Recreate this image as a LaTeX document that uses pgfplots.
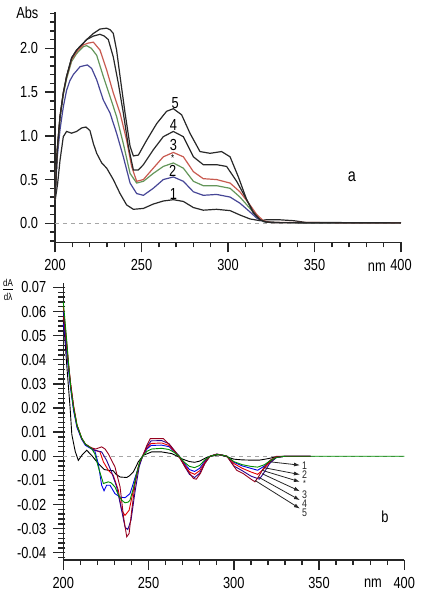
\documentclass[border=0pt]{standalone}
\usepackage{pgfplots}
\pgfplotsset{compat=1.18}
\usetikzlibrary{arrows.meta}
\usepackage{fontspec}
\setmainfont{Liberation Sans}[FakeStretch=0.8]
\definecolor{tk}{RGB}{40,40,40}
\definecolor{tblue}{RGB}{70,70,150}
\definecolor{tgreen}{RGB}{100,150,90}
\definecolor{tred}{RGB}{200,90,80}
\definecolor{bblue}{RGB}{0,0,230}
\definecolor{bgreen}{RGB}{0,140,0}
\definecolor{bred}{RGB}{230,0,0}
\definecolor{bnavy}{RGB}{40,0,140}
\definecolor{bmaroon}{RGB}{150,0,30}
\pgfplotsset{
  base/.style={
    scale only axis, anchor=south west,
    axis x line=bottom, axis y line=left,
    axis line style={-, black!85, line width=0.6pt},
    tick style={black!85, line width=0.6pt},
    major tick length=5pt, minor tick length=2.5pt,
    xtick align=outside, ytick align=outside,
    xmin=200, xmax=400,
    xtick={200,250,...,400}, minor x tick num=4,
    xticklabel style={/pgf/number format/1000 sep={}},
    tick label style={font=\fontsize{8}{9}\selectfont},
    clip=false,
  },
}
\tikzset{tkl/.style={draw=black!85, line width=0.7pt}}
\begin{document}
\begin{tikzpicture}
\path (0,0) rectangle (219pt,300pt);
% ---- tick marks, drawn first, on the same geometry as the axes below ----
\begin{scope}
% panel a: x axis at y=178.85pt, 200..400 nm over 27.5pt..200.5pt
\foreach \i in {0,...,20} {\draw[tkl] (27.5pt+\i*8.65pt,178.85pt) -- ++(0pt,-2.5pt);}
\foreach \i in {0,5,10,15,20} {\draw[tkl] (27.5pt+\i*8.65pt,178.85pt) -- ++(0pt,-5pt);}
% panel a: y axis at x=27.5pt, minor every 0.1 from -0.2, major every 0.5 from 0
\foreach \i in {0,...,26} {\draw[tkl] (27.5pt,179.594pt+\i*4.375pt) -- ++(-2.5pt,0pt);}
\foreach \i in {0,...,4} {\draw[tkl] (27.5pt,188.344pt+\i*21.875pt) -- ++(-5pt,0pt);}
% panel b: x axis at y=20pt, 200..400 nm over 31.65pt..202.15pt
\foreach \i in {0,...,20} {\draw[tkl] (31.65pt+\i*8.525pt,20pt) -- ++(0pt,-2.5pt);}
\foreach \i in {0,5,10,15,20} {\draw[tkl] (31.65pt+\i*8.525pt,20pt) -- ++(0pt,-5pt);}
% panel b: y axis at x=31.65pt, minor every 0.002 from -0.042, major every 0.01 from -0.04
\foreach \i in {0,...,56} {\draw[tkl] (32.65pt,21.206pt+\i*2.4124pt) -- ++(-3.5pt,0pt);}
\foreach \i in {0,...,11} {\draw[tkl] (31.65pt,23.619pt+\i*12.062pt) -- ++(-5pt,0pt);}
\end{scope}
% ---------------- panel a ----------------
\begin{axis}[base, at={(27.5pt,178.85pt)}, width=173pt, height=115.15pt,
  ymin=-0.217, ymax=2.415,
  ytick={0,0.5,1.0,1.5,2.0}, minor y tick num=4,
  yticklabel style={/pgf/number format/.cd, fixed, fixed zerofill, precision=1, assume math mode=true},
  xticklabel style={/pgf/number format/.cd, assume math mode=true},
]
\addplot[black!35, dashed, dash pattern=on 2pt off 2pt, line width=0.5pt] coordinates {(200,0) (400,0)};
% curve 1
\addplot[tk, line width=0.6pt] coordinates {(200,0.25) (201.5,0.45) (202.9,0.72) (204.8,0.99) (206.7,1.05) (209.6,1.03) (212.5,1.05) (215.4,1.09) (217.9,1.10) (220.2,1.06) (222.2,0.91) (224.1,0.80) (227,0.69) (229.9,0.63) (233.7,0.50) (237.6,0.34) (241.4,0.21) (245.3,0.16) (251.1,0.17) (256.8,0.22) (262.6,0.255) (268.4,0.27) (274.2,0.25) (280,0.18) (285.7,0.15) (293.4,0.16) (301.2,0.145) (306.9,0.095) (312.7,0.05) (318.5,0.03) (322,0.04) (330,0.04) (338,0.03) (345,0.01) (400,0.005)};
% curve 2
\addplot[tblue, line width=0.6pt] coordinates {(200,0.27) (201.3,0.75) (202.9,1.07) (204.8,1.33) (206.7,1.52) (208.6,1.63) (210.6,1.70) (214.5,1.79) (218.7,1.81) (221.2,1.77) (224.1,1.64) (227.9,1.41) (231.8,1.26) (235.6,1.03) (239.5,0.76) (243.4,0.46) (247.2,0.34) (251.1,0.32) (256.8,0.40) (262.6,0.50) (268.4,0.53) (274.2,0.48) (280,0.36) (285.7,0.32) (293.4,0.33) (301.2,0.30) (306.9,0.23) (312.7,0.13) (316.6,0.06) (320.4,0.02) (325,0.008) (400,0.005)};
% curve *
\addplot[tgreen, line width=0.6pt] coordinates {(200,0.27) (201.3,0.83) (202.9,1.20) (204.8,1.47) (206.7,1.65) (209.6,1.85) (212.5,1.94) (216.4,2.02) (218.3,2.03) (221,2.0) (224.1,1.92) (227.9,1.68) (231.8,1.45) (235.6,1.22) (239.5,0.91) (243.4,0.57) (247.2,0.46) (251.1,0.48) (256.8,0.57) (262.6,0.65) (268.4,0.69) (274.2,0.63) (280,0.48) (285.7,0.43) (293.4,0.43) (301.2,0.40) (306.9,0.30) (312.7,0.17) (316.6,0.08) (320.4,0.02) (325,0.008) (400,0.005)};
% curve 3
\addplot[tred, line width=0.6pt] coordinates {(200,0.27) (201.3,0.84) (202.9,1.22) (204.8,1.49) (206.7,1.67) (209.6,1.87) (212.5,1.96) (216.4,2.04) (219.3,2.06) (222.2,2.07) (226,1.98) (229.9,1.75) (233.7,1.49) (237.6,1.26) (241.4,0.95) (244.3,0.65) (247.2,0.48) (251.1,0.50) (256.8,0.63) (262.6,0.76) (268.4,0.81) (274.2,0.76) (280,0.59) (285.7,0.51) (293.4,0.50) (301.2,0.46) (306.9,0.36) (312.7,0.21) (316.6,0.10) (320.4,0.03) (325,0.01) (400,0.005)};
% curve 4
\addplot[tk, line width=0.6pt] coordinates {(200,0.27) (201.3,0.84) (202.9,1.22) (204.8,1.49) (206.7,1.68) (209.6,1.89) (212.5,1.98) (216.4,2.06) (218.3,2.10) (222.2,2.14) (226,2.16) (228.5,2.14) (230.8,2.10) (233.7,1.90) (236.6,1.60) (239.5,1.26) (242.4,0.88) (245.3,0.61) (248.2,0.61) (251.1,0.67) (256.8,0.84) (262.6,0.99) (268.4,1.05) (274.2,0.99) (280,0.76) (285.7,0.67) (293.4,0.67) (299.2,0.65) (305,0.48) (310.8,0.27) (314.6,0.13) (318.5,0.04) (322,0.015) (330,0.008) (400,0.005)};
% curve 5
\addplot[tk, line width=0.6pt] coordinates {(200,0.27) (201.3,0.84) (202.9,1.22) (204.8,1.49) (206.7,1.68) (209.6,1.89) (212.5,1.98) (216.4,2.06) (218.3,2.10) (222.2,2.17) (226,2.22) (229.9,2.23) (232,2.21) (233.7,2.17) (235.6,1.98) (237.6,1.68) (240.5,1.26) (243.4,0.88) (245.3,0.77) (248.2,0.78) (253,0.95) (258.8,1.14) (264.5,1.28) (268.4,1.31) (273.2,1.24) (278,1.03) (283.8,0.82) (289.6,0.80) (296.3,0.82) (301.2,0.76) (306,0.53) (310.8,0.27) (314.6,0.12) (318.5,0.04) (322,0.015) (330,0.008) (400,0.005)};
\begin{scope}[every node/.style={font=\fontsize{8}{9}\selectfont, inner sep=0pt}]
\node at (axis cs:269.4,1.37) {5};
\node at (axis cs:268.4,1.12) {4};
\node at (axis cs:268.4,0.89) {3};
\node at (axis cs:268,0.745) {\fontsize{5}{5}\selectfont *};
\node at (axis cs:268,0.60) {2};
\node at (axis cs:268.4,0.33) {1};
\node at (axis cs:371.6,0.53) {\fontsize{9}{9}\selectfont a};
\end{scope}
\node[font=\fontsize{8}{9}\selectfont, inner sep=0pt] at (axis description cs:-0.08,0.995) {Abs};
\node[font=\fontsize{8}{9}\selectfont, inner sep=0pt] at (axis description cs:0.93,-0.107) {nm};
\end{axis}
% ---------------- panel b ----------------
\begin{axis}[base, at={(31.65pt,20pt)}, width=170.5pt, height=138.35pt,
  ymin=-0.0430, ymax=0.0717,
  scaled y ticks=false,
  ytick={-0.04,-0.03,-0.02,-0.01,0,0.01,0.02,0.03,0.04,0.05,0.06,0.07}, minor y tick num=4,
  yticklabel style={/pgf/number format/.cd, fixed, fixed zerofill, precision=2, assume math mode=true},
  xticklabel style={/pgf/number format/.cd, assume math mode=true},
]
\addplot[black!35, dashed, dash pattern=on 2pt off 2pt, line width=0.5pt] coordinates {(200,0) (400,0)};
% 1 black
\addplot[black, line width=0.45pt] coordinates {(200,0.057) (201,0.048) (202,0.038) (203,0.029) (204,0.020) (205,0.009) (207,0.002) (208.8,-0.0017) (211,0.0005) (213.7,0.0025) (216.6,0.0004) (220.5,-0.003) (224,-0.0055) (226.4,-0.0058) (229.3,-0.006) (231,-0.0075) (233.3,-0.0086) (237.2,-0.0088) (239,-0.008) (241.1,-0.0065) (244,-0.0023) (246.9,0.0004) (251.8,0.0018) (257.7,0.0018) (263.6,0.0011) (267,0) (270,-0.0012) (274,-0.0022) (277,-0.0025) (280,-0.002) (284,-0.0005) (287,0) (291,0.0006) (295,0) (300,-0.0012) (305,-0.0015) (310,-0.0016) (315,-0.0016) (320,-0.001) (325,-0.0002) (330,0) (345,0)};
% 2 blue
\addplot[bblue, line width=0.45pt] coordinates {(200,0.055) (201,0.05) (202,0.043) (203,0.036) (204.3,0.028) (206,0.019) (208,0.012) (210.8,0.007) (213,0.0045) (216.6,0.003) (218.5,0.0022) (220.5,-0.003) (222.5,-0.012) (223.9,-0.0143) (225.4,-0.012) (227.4,-0.012) (230.3,-0.0155) (233.3,-0.0169) (236.2,-0.0172) (239.1,-0.0155) (240.5,-0.0125) (242.2,-0.0086) (245.1,-0.0023) (246.5,0) (249,0.003) (251.5,0.0045) (257.7,0.0046) (262,0.004) (265,0.002) (268,0) (271,-0.003) (274,-0.0055) (277,-0.0063) (280,-0.005) (283,-0.002) (286,0) (290,0.0008) (293,0.0005) (296,0) (300,-0.0025) (305,-0.004) (310,-0.005) (314,-0.0058) (318,-0.004) (321,-0.0022) (325,-0.0005) (330,0) (345,0)};
% 3 red
\addplot[bred, line width=0.45pt] coordinates {(200,0.062) (201,0.055) (202,0.047) (203,0.039) (204.3,0.030) (206,0.021) (208,0.013) (210.8,0.0075) (213,0.005) (216.6,0.0033) (218.5,0.0025) (221.5,0.0018) (223.5,-0.0023) (226.4,-0.0058) (229.3,-0.0079) (232.3,-0.0141) (234.2,-0.0224) (236.2,-0.0245) (238.6,-0.0224) (241.1,-0.0141) (244,-0.0044) (246.5,0) (249,0.0035) (251.5,0.0053) (257.7,0.0055) (262,0.0045) (265,0.0022) (268,0) (271,-0.0035) (274,-0.0065) (277,-0.0075) (280,-0.006) (283,-0.0025) (286,0) (290,0.0008) (293,0.0005) (296,0) (300,-0.003) (305,-0.005) (310,-0.0065) (314,-0.0075) (318,-0.005) (321,-0.0025) (325,-0.0005) (330,0) (345,0)};
% 4 navy
\addplot[bnavy, line width=0.45pt] coordinates {(200,0.06) (201,0.053) (202,0.046) (203,0.038) (204.3,0.029) (206,0.02) (208,0.0125) (210.8,0.0072) (213,0.005) (216.6,0.0032) (218.5,0.0025) (222.5,0.0018) (225.4,-0.0017) (228.3,-0.0065) (231.3,-0.0127) (234.2,-0.0224) (236.2,-0.0293) (237.8,-0.0304) (239.7,-0.0265) (242.2,-0.0141) (244.5,-0.0044) (246.5,0) (249,0.004) (251.5,0.0064) (257.7,0.0065) (262,0.0052) (265,0.0025) (268,0) (271,-0.004) (274,-0.0075) (277,-0.0088) (280,-0.007) (283,-0.003) (286,0) (290,0.0009) (293,0.0005) (296,0) (300,-0.004) (305,-0.006) (310,-0.0082) (315,-0.0095) (318,-0.0065) (321,-0.003) (325,-0.0005) (330,0) (345,0)};
% 5 maroon
\addplot[bmaroon, line width=0.45pt] coordinates {(200,0.058) (201,0.052) (202,0.045) (203,0.038) (204.3,0.03) (206,0.021) (208,0.013) (210.8,0.0075) (213,0.005) (216.6,0.0035) (219,0.003) (222.5,0.0039) (224.5,0.003) (226.4,0.001) (230.3,-0.0044) (233.3,-0.0127) (235.3,-0.025) (237.2,-0.0334) (238.6,-0.032) (240.2,-0.022) (242.2,-0.011) (244.5,-0.003) (246.5,0) (249,0.0045) (251,0.0073) (258.7,0.0073) (262.6,0.0046) (266.5,0.0011) (268.5,-0.001) (272,-0.005) (276.3,-0.0092) (278,-0.0095) (280.5,-0.007) (283,-0.003) (286,0) (290,0.0009) (293,0.0005) (296,0) (301.7,-0.0058) (305.6,-0.0072) (309.5,-0.0092) (312.4,-0.0106) (314.4,-0.0086) (317.3,-0.0051) (321.2,-0.0017) (325.1,0) (345,0)};
% * green
\addplot[bgreen, line width=0.45pt] coordinates {(200,0.064) (201,0.056) (202,0.048) (203,0.039) (204.3,0.029) (206,0.02) (208,0.013) (210.8,0.0075) (213,0.005) (216.6,0.0032) (218.5,0.001) (220.5,-0.0044) (222.5,-0.009) (223.5,-0.0113) (226.4,-0.0106) (228,-0.011) (230.3,-0.0127) (232.3,-0.016) (234.2,-0.0182) (236.2,-0.0193) (238,-0.019) (239.1,-0.0182) (241,-0.0135) (243,-0.0072) (245,-0.002) (246.5,0) (249,0.002) (251.8,0.003) (257.7,0.0033) (262,0.0028) (264.6,0.0018) (268,0) (271,-0.0025) (274,-0.0042) (277,-0.0047) (280,-0.0038) (283,-0.0015) (286,0) (290,0.0007) (293,0.0005) (296,0) (300,-0.0022) (305,-0.0035) (310,-0.0042) (314,-0.0045) (318,-0.0035) (321,-0.002) (325,-0.0005) (330,0) (345,0) (400,0)};
\begin{scope}[black!85, line width=0.4pt, -{Latex[length=3pt,width=2pt]}]
\draw (axis cs:321.3,-0.0023) -- (axis cs:338.8,-0.0037);
\draw (axis cs:317.5,-0.0047) -- (axis cs:338.8,-0.0076);
\draw (axis cs:316.5,-0.0058) -- (axis cs:338.8,-0.0106);
\draw (axis cs:316.5,-0.0072) -- (axis cs:338.8,-0.0145);
\draw (axis cs:314.4,-0.0086) -- (axis cs:338.8,-0.0182);
\draw (axis cs:312.4,-0.0100) -- (axis cs:338.8,-0.0217);
\end{scope}
\begin{scope}[every node/.style={font=\fontsize{5.5}{6}\selectfont, inner sep=0pt, text=black!85}]
\node at (axis cs:341.5,-0.0038) {1};
\node at (axis cs:341.5,-0.0076) {2};
\node at (axis cs:341.5,-0.0113) {\fontsize{4.5}{5}\selectfont *};
\node at (axis cs:341.5,-0.0160) {3};
\node at (axis cs:341.5,-0.0195) {4};
\node at (axis cs:341.5,-0.0235) {5};
\end{scope}
\node[font=\fontsize{8}{9}\selectfont, inner sep=0pt] at (axis cs:388.6,-0.0249) {b};
\node[font=\fontsize{8}{9}\selectfont, inner sep=0pt] at (axis description cs:0.908,-0.083) {nm};
\node[font=\fontsize{5}{5.5}\selectfont, inner sep=0pt, align=center] at (axis description cs:-0.162,0.975) {\underline{dA}\\[0.5pt]dλ};
\end{axis}
\end{tikzpicture}
\end{document}
